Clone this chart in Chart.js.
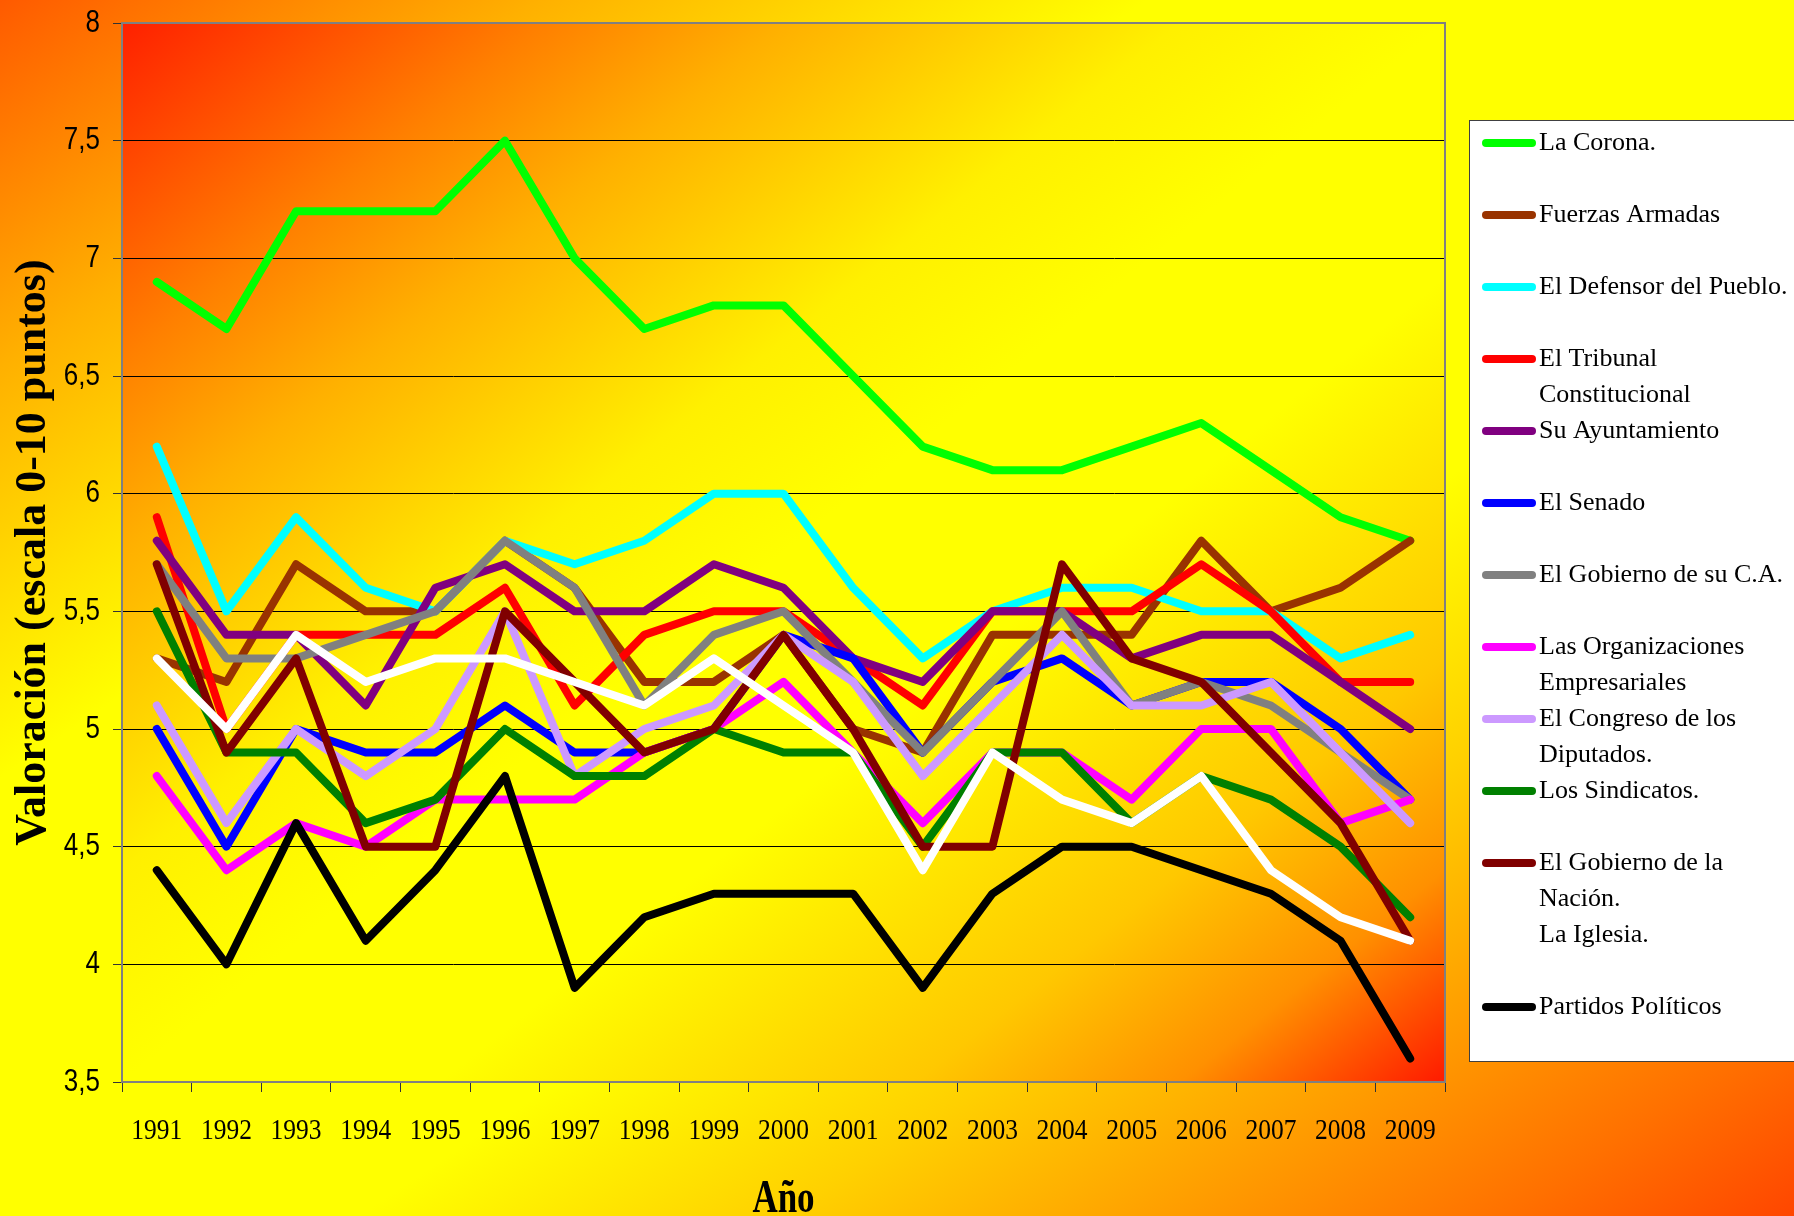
<!DOCTYPE html>
<html>
<head>
<meta charset="utf-8">
<script src="https://cdn.jsdelivr.net/npm/chart.js@4/dist/chart.umd.min.js"></script>
<style>
html,body{margin:0;padding:0;background:#ffff00;}
canvas{display:block;}
</style>
</head>
<body>
<canvas id="c" width="1794" height="1216"></canvas>
<script>
// ---- data ----
const years = ['1991','1992','1993','1994','1995','1996','1997','1998','1999','2000','2001','2002','2003','2004','2005','2006','2007','2008','2009'];
const yTickValues = [3.5,4,4.5,5,5.5,6,6.5,7,7.5,8];
const xTitle = 'Año';
const yTitle = 'Valoración (escala 0-10 puntos)';

const seriesNames = ['La Corona.','Fuerzas Armadas','El Defensor del Pueblo.','El Tribunal Constitucional','Su Ayuntamiento','El Senado','El Gobierno de su C.A.','Las Organizaciones Empresariales','El Congreso de los Diputados.','Los Sindicatos.','El Gobierno de la Nación.','La Iglesia.','Partidos Políticos'];
const seriesColors = ['#00FF00','#993300','#00FFFF','#FF0000','#800080','#0000FF','#808080','#FF00FF','#CC99FF','#008000','#800000','#FFFFFF','#000000'];

const laCorona       = [6.9,6.7,7.2,7.2,7.2,7.5,7.0,6.7,6.8,6.8,6.5,6.2,6.1,6.1,6.2,6.3,6.1,5.9,5.8];
const fuerzasArmadas = [5.3,5.2,5.7,5.5,5.5,5.8,5.6,5.2,5.2,5.4,5.0,4.9,5.4,5.4,5.4,5.8,5.5,5.6,5.8];
const defensor       = [6.2,5.5,5.9,5.6,5.5,5.8,5.7,5.8,6.0,6.0,5.6,5.3,5.5,5.6,5.6,5.5,5.5,5.3,5.4];
const tribunal       = [5.9,5.0,5.4,5.4,5.4,5.6,5.1,5.4,5.5,5.5,5.3,5.1,5.5,5.5,5.5,5.7,5.5,5.2,5.2];
const ayuntamiento   = [5.8,5.4,5.4,5.1,5.6,5.7,5.5,5.5,5.7,5.6,5.3,5.2,5.5,5.5,5.3,5.4,5.4,5.2,5.0];
const senado         = [5.0,4.5,5.0,4.9,4.9,5.1,4.9,4.9,5.0,5.4,5.3,4.9,5.2,5.3,5.1,5.2,5.2,5.0,4.7];
const gobiernoCA     = [5.7,5.3,5.3,5.4,5.5,5.8,5.6,5.1,5.4,5.5,5.2,4.9,5.2,5.5,5.1,5.2,5.1,4.9,4.7];
const organizaciones = [4.8,4.4,4.6,4.5,4.7,4.7,4.7,4.9,5.0,5.2,4.9,4.6,4.9,4.9,4.7,5.0,5.0,4.6,4.7];
const congreso       = [5.1,4.6,5.0,4.8,5.0,5.5,4.8,5.0,5.1,5.4,5.2,4.8,5.1,5.4,5.1,5.1,5.2,4.9,4.6];
const sindicatos     = [5.5,4.9,4.9,4.6,4.7,5.0,4.8,4.8,5.0,4.9,4.9,4.5,4.9,4.9,4.6,4.8,4.7,4.5,4.2];
const gobiernoNacion = [5.7,4.9,5.3,4.5,4.5,5.5,5.2,4.9,5.0,5.4,5.0,4.5,4.5,5.7,5.3,5.2,4.9,4.6,4.1];
const iglesia        = [5.3,5.0,5.4,5.2,5.3,5.3,5.2,5.1,5.3,5.1,4.9,4.4,4.9,4.7,4.6,4.8,4.4,4.2,4.1];
const partidos       = [4.4,4.0,4.6,4.1,4.4,4.8,3.9,4.2,4.3,4.3,4.3,3.9,4.3,4.5,4.5,4.4,4.3,4.1,3.6];

const seriesValues = [laCorona,fuerzasArmadas,defensor,tribunal,ayuntamiento,senado,gobiernoCA,organizaciones,congreso,sindicatos,gobiernoNacion,iglesia,partidos];

// ---- helpers ----
function boxGradient(ctx, x, y, w, h, stops){
  const k = 2 / (1/(w*w) + 1/(h*h));
  const g = ctx.createLinearGradient(x, y, x + k/w, y + k/h);
  stops.forEach(s => g.addColorStop(s[0], s[1]));
  return g;
}
const outerStops = [[0,'#FF5A00'],[0.15,'#FFB000'],[0.25,'#FFE000'],[0.32,'#FFFF00'],[0.6,'#FFFF00'],[0.72,'#FFD000'],[0.92,'#FF7000'],[1,'#FF4600']];
const plotStops  = [[0,'#FF2000'],[0.16,'#FF8000'],[0.25,'#FFB000'],[0.4,'#FFF000'],[0.5,'#FFFF00'],[0.62,'#FFFF00'],[0.8,'#FFC800'],[0.9,'#FF9000'],[1,'#FF1A00']];

const SERIF = '"Liberation Serif", "Times New Roman", serif';
const SANS = '"Liberation Sans", Arial, sans-serif';

const bgPlugin = {
  id: 'bg',
  beforeDraw(chart){
    const {ctx, width, height, chartArea: a} = chart;
    ctx.save();
    ctx.fillStyle = boxGradient(ctx, 0, 0, width, height, outerStops);
    ctx.fillRect(0, 0, width, height);
    ctx.fillStyle = boxGradient(ctx, a.left, a.top, a.right - a.left, a.bottom - a.top, plotStops);
    ctx.fillRect(a.left, a.top, a.right - a.left, a.bottom - a.top);
    ctx.restore();
  },
  beforeDatasetsDraw(chart){
    const {ctx, chartArea: a} = chart;
    ctx.save();
    ctx.strokeStyle = '#808080';
    ctx.lineWidth = 2;
    ctx.beginPath();
    ctx.moveTo(a.left, a.top);
    ctx.lineTo(a.right, a.top);
    ctx.lineTo(a.right, a.bottom);
    ctx.stroke();
    ctx.restore();
  }
};

// tick labels and x title, drawn slightly condensed like the original
const labelPlugin = {
  id: 'labels',
  afterDraw(chart){
    const ctx = chart.ctx;
    const xs = chart.scales.x, ys = chart.scales.y;
    ctx.save();
    ctx.fillStyle = '#000000';
    // x ticks
    ctx.font = '26px ' + SERIF;
    ctx.textAlign = 'center';
    ctx.textBaseline = 'middle';
    years.forEach((yr, i) => {
      const x = xs.getPixelForValue(i);
      ctx.save();
      ctx.translate(x, xs.top + 49);
      ctx.scale(0.98, 1.14);
      ctx.fillText(yr, 0, 0);
      ctx.restore();
    });
    // y ticks
    ctx.font = '26px ' + SANS;
    ctx.textAlign = 'right';
    yTickValues.forEach(v => {
      const y = ys.getPixelForValue(v);
      ctx.save();
      ctx.translate(ys.right - 22, y);
      ctx.scale(1, 1.22);
      ctx.fillText(String(v).replace('.', ','), 0, 0);
      ctx.restore();
    });
    // x title
    ctx.font = 'bold 35px ' + SERIF;
    ctx.textAlign = 'center';
    ctx.textBaseline = 'alphabetic';
    ctx.save();
    ctx.translate((chart.chartArea.left + chart.chartArea.right) / 2, 1212);
    ctx.scale(1, 1.3);
    ctx.fillText(xTitle, 0, 0);
    ctx.restore();
    ctx.restore();
  }
};

const legendPlugin = {
  id: 'customLegend',
  afterDraw(chart){
    const ctx = chart.ctx;
    const boxX = 1469.5, boxY = 120.5, boxW = 400, boxH = 941;
    ctx.save();
    ctx.fillStyle = '#FFFFFF';
    ctx.fillRect(boxX, boxY, boxW, boxH);
    ctx.strokeStyle = '#404040';
    ctx.lineWidth = 1;
    ctx.strokeRect(boxX, boxY, boxW, boxH);
    ctx.font = '26px ' + SERIF;
    ctx.textBaseline = 'middle';
    ctx.textAlign = 'left';
    const maxW = 262, lineH = 36.6;
    chart.data.datasets.forEach((ds, i) => {
      const y = 143 + i * 72;
      ctx.strokeStyle = ds.borderColor;
      ctx.lineWidth = 8;
      ctx.lineCap = 'round';
      ctx.beginPath();
      ctx.moveTo(1486, y);
      ctx.lineTo(1532, y);
      ctx.stroke();
      const words = ds.label.split(' ');
      const lines = [];
      let cur = '';
      words.forEach(w => {
        const t = cur ? cur + ' ' + w : w;
        if (ctx.measureText(t).width > maxW && cur) { lines.push(cur); cur = w; }
        else cur = t;
      });
      if (cur) lines.push(cur);
      ctx.fillStyle = '#000000';
      lines.forEach((ln, j) => ctx.fillText(ln, 1539, y + j * lineH));
    });
    ctx.restore();
  }
};

const N = seriesNames.length;
const datasets = seriesNames.map((name, i) => ({
  label: name,
  data: seriesValues[i],
  borderColor: seriesColors[i],
  backgroundColor: seriesColors[i],
  borderWidth: 8,
  pointRadius: 0,
  pointHoverRadius: 0,
  tension: 0,
  fill: false,
  borderCapStyle: 'round',
  borderJoinStyle: 'round',
  order: N - i
}));

new Chart(document.getElementById('c').getContext('2d'), {
  type: 'line',
  data: { labels: years, datasets },
  plugins: [bgPlugin, labelPlugin, legendPlugin],
  options: {
    responsive: false,
    animation: false,
    devicePixelRatio: 1,
    layout: { padding: { top: 23, right: 349, left: 0, bottom: 0 } },
    plugins: { legend: { display: false }, tooltip: { enabled: false } },
    scales: {
      x: {
        type: 'category',
        offset: true,
        afterFit(s){ s.height = 134; s.paddingLeft = 0; s.paddingRight = 0; },
        grid: { display: true, offset: true, drawOnChartArea: false, drawTicks: true, tickLength: 10, tickColor: '#333333', tickWidth: 1 },
        border: { display: true, color: '#808080', width: 2 },
        ticks: { display: false, autoSkip: false },
        title: { display: false, text: xTitle }
      },
      y: {
        min: 3.5, max: 8,
        afterFit(s){ s.width = 122; s.paddingTop = 0; s.paddingBottom = 0; },
        afterBuildTicks(s){ s.ticks = yTickValues.map(v => ({ value: v })); },
        grid: { color: '#000000', lineWidth: 1, drawTicks: true, tickLength: 9, tickColor: '#333333' },
        border: { display: true, color: '#808080', width: 2 },
        ticks: { display: false },
        title: { display: true, text: yTitle, color: '#000000', padding: { top: 12, bottom: 0 },
                 font: { family: SERIF, size: 44, weight: 'bold', lineHeight: 1 } }
      }
    }
  }
});
</script>
</body>
</html>
